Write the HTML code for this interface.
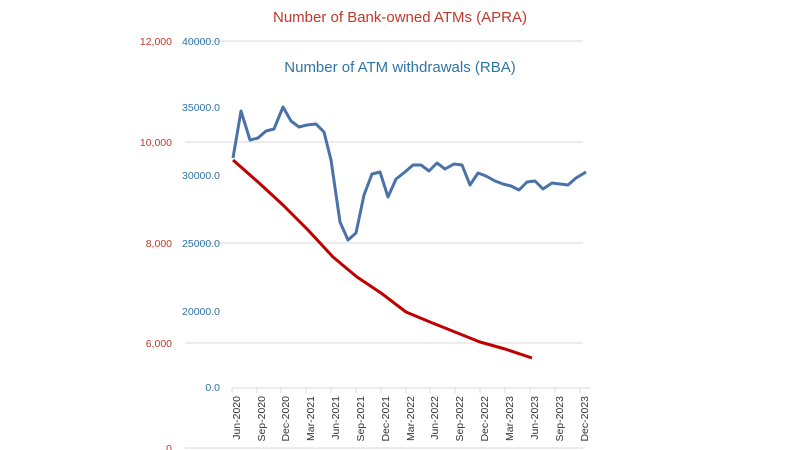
<!DOCTYPE html><html><head><meta charset="utf-8"><style>body{margin:0;background:#fff}svg{display:block;font-family:"Liberation Sans",sans-serif}</style></head><body>
<svg width="800" height="450" viewBox="0 0 800 450">
<g stroke="#d9d9d9" stroke-width="1">
<line x1="185" y1="41" x2="583" y2="41"/><line x1="185" y1="142" x2="583" y2="142"/><line x1="185" y1="243" x2="583" y2="243"/><line x1="185" y1="343" x2="583" y2="343"/><line x1="185" y1="448" x2="583" y2="448"/>
<line x1="232" y1="388" x2="590" y2="388"/>
<line x1="232" y1="388" x2="232" y2="393"/><line x1="257" y1="388" x2="257" y2="393"/><line x1="281" y1="388" x2="281" y2="393"/><line x1="306" y1="388" x2="306" y2="393"/><line x1="331" y1="388" x2="331" y2="393"/><line x1="356" y1="388" x2="356" y2="393"/><line x1="381" y1="388" x2="381" y2="393"/><line x1="406" y1="388" x2="406" y2="393"/><line x1="430" y1="388" x2="430" y2="393"/><line x1="455" y1="388" x2="455" y2="393"/><line x1="480" y1="388" x2="480" y2="393"/><line x1="505" y1="388" x2="505" y2="393"/><line x1="530" y1="388" x2="530" y2="393"/><line x1="555" y1="388" x2="555" y2="393"/><line x1="580" y1="388" x2="580" y2="393"/>
</g>
<text x="400" y="22" text-anchor="middle" font-size="15" fill="#c0392b">Number of Bank-owned ATMs (APRA)</text>
<text x="400" y="72" text-anchor="middle" font-size="15" fill="#2e75a6">Number of ATM withdrawals (RBA)</text>
<g font-size="10.5" fill="#c0392b" text-anchor="end">
<text x="172" y="45">12,000</text><text x="172" y="146">10,000</text><text x="172" y="247">8,000</text><text x="172" y="347">6,000</text><text x="172" y="452">0</text></g>
<g font-size="10.5" fill="#2e75a6" text-anchor="end">
<text x="220" y="45">40000.0</text><text x="220" y="111">35000.0</text><text x="220" y="179">30000.0</text><text x="220" y="247">25000.0</text><text x="220" y="315">20000.0</text><text x="220" y="391">0.0</text></g>
<g font-size="10.5" fill="#333" text-anchor="end">
<text transform="translate(240,396) rotate(-90)">Jun-2020</text><text transform="translate(265,396) rotate(-90)">Sep-2020</text><text transform="translate(289,396) rotate(-90)">Dec-2020</text><text transform="translate(314,396) rotate(-90)">Mar-2021</text><text transform="translate(339,396) rotate(-90)">Jun-2021</text><text transform="translate(364,396) rotate(-90)">Sep-2021</text><text transform="translate(389,396) rotate(-90)">Dec-2021</text><text transform="translate(414,396) rotate(-90)">Mar-2022</text><text transform="translate(438,396) rotate(-90)">Jun-2022</text><text transform="translate(463,396) rotate(-90)">Sep-2022</text><text transform="translate(488,396) rotate(-90)">Dec-2022</text><text transform="translate(513,396) rotate(-90)">Mar-2023</text><text transform="translate(538,396) rotate(-90)">Jun-2023</text><text transform="translate(563,396) rotate(-90)">Sep-2023</text><text transform="translate(588,396) rotate(-90)">Dec-2023</text></g>
<polyline fill="none" stroke="#c00000" stroke-width="3" stroke-linejoin="round" points="233,160 258,182 283,205 308,230 333,257 357,277 381,293 406,312 430,322 455,332 480,342 505,349 532,358"/>
<polyline fill="none" stroke="#4a72a8" stroke-width="3" stroke-linejoin="round" points="233,158 241,111 250,140 258,138 266,131 274,129 283,107 291,121 299,127 307,125 316,124 324,132 331,160 340,222 348,240 356,233 364,195 372,174 380,172 388,197 396,179 405,172 413,165 421,165 429,171 437,163 445,169 454,164 462,165 470,185 478,173 486,176 495,181 503,184 511,186 519,190 527,182 535,181 543,189 552,183 560,184 568,185 576,178 586,172"/>
</svg></body></html>
